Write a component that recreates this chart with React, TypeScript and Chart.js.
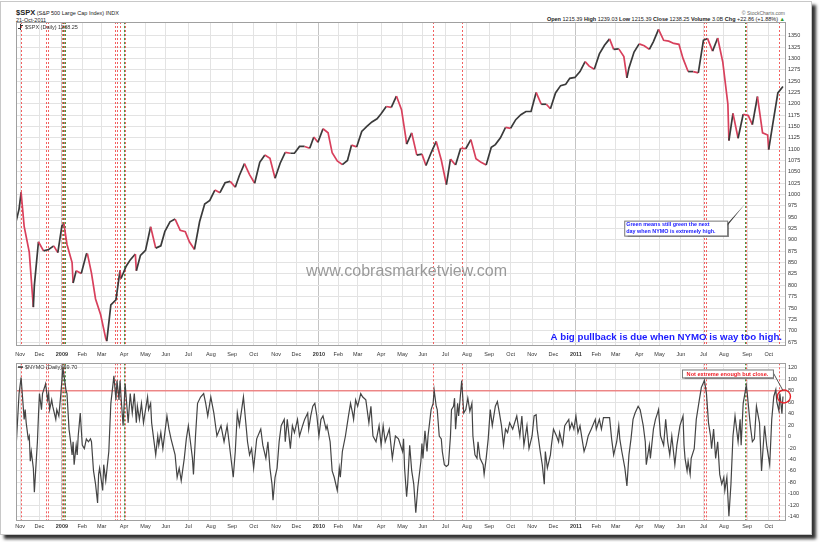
import React, { useEffect, useRef } from "react";
import { Chart, registerables } from "chart.js";
Chart.register(...registerables);

const FONT = '"Liberation Sans", Arial, sans-serif';

// ---- calendar data ----
const marketHolidays = [
  "2008-11-27", "2008-12-25", "2009-01-01", "2009-01-19", "2009-02-16", "2009-04-10",
  "2009-05-25", "2009-07-03", "2009-09-07", "2009-11-26", "2009-12-25", "2010-01-01",
  "2010-01-18", "2010-02-15", "2010-04-02", "2010-05-31", "2010-07-05", "2010-09-06",
  "2010-11-25", "2010-12-24", "2011-01-17", "2011-02-21", "2011-04-22", "2011-05-30",
  "2011-07-04", "2011-09-05",
];
const monthNames = ["Jan", "Feb", "Mar", "Apr", "May", "Jun", "Jul", "Aug", "Sep", "Oct", "Nov", "Dec"];

// ---- $SPX closes (selected sessions) ----
const spxDates = [
  "2008-10-28", "2008-10-31", "2008-11-04", "2008-11-07", "2008-11-14", "2008-11-20", "2008-11-21", "2008-11-28",
  "2008-12-05", "2008-12-12", "2008-12-19", "2008-12-26", "2009-01-02", "2009-01-06", "2009-01-09", "2009-01-16",
  "2009-01-20", "2009-01-23", "2009-01-30", "2009-02-06", "2009-02-09", "2009-02-13", "2009-02-20", "2009-02-27",
  "2009-03-06", "2009-03-09", "2009-03-13", "2009-03-20", "2009-03-26", "2009-03-27", "2009-04-03", "2009-04-09",
  "2009-04-17", "2009-04-20", "2009-04-24", "2009-05-01", "2009-05-08", "2009-05-15", "2009-05-22", "2009-05-29",
  "2009-06-05", "2009-06-12", "2009-06-19", "2009-06-26", "2009-07-02", "2009-07-10", "2009-07-17", "2009-07-24",
  "2009-07-31", "2009-08-07", "2009-08-14", "2009-08-21", "2009-08-28", "2009-09-04", "2009-09-11", "2009-09-18",
  "2009-09-25", "2009-10-02", "2009-10-09", "2009-10-16", "2009-10-23", "2009-10-30", "2009-11-06", "2009-11-13",
  "2009-11-20", "2009-11-27", "2009-12-04", "2009-12-11", "2009-12-18", "2009-12-24", "2009-12-31", "2010-01-08",
  "2010-01-15", "2010-01-22", "2010-01-29", "2010-02-05", "2010-02-12", "2010-02-19", "2010-02-26", "2010-03-05",
  "2010-03-12", "2010-03-19", "2010-03-26", "2010-04-01", "2010-04-09", "2010-04-16", "2010-04-23", "2010-04-30",
  "2010-05-06", "2010-05-07", "2010-05-14", "2010-05-21", "2010-05-28", "2010-06-04", "2010-06-11", "2010-06-18",
  "2010-06-25", "2010-07-02", "2010-07-09", "2010-07-16", "2010-07-23", "2010-07-30", "2010-08-06", "2010-08-13",
  "2010-08-20", "2010-08-27", "2010-09-03", "2010-09-10", "2010-09-17", "2010-09-24", "2010-10-01", "2010-10-08",
  "2010-10-15", "2010-10-22", "2010-10-29", "2010-11-05", "2010-11-12", "2010-11-19", "2010-11-26", "2010-12-03",
  "2010-12-10", "2010-12-17", "2010-12-23", "2010-12-31", "2011-01-07", "2011-01-14", "2011-01-21", "2011-01-28",
  "2011-02-04", "2011-02-11", "2011-02-18", "2011-02-25", "2011-03-04", "2011-03-11", "2011-03-16", "2011-03-18",
  "2011-03-25", "2011-04-01", "2011-04-08", "2011-04-15", "2011-04-21", "2011-04-29", "2011-05-06", "2011-05-13",
  "2011-05-20", "2011-05-27", "2011-06-03", "2011-06-10", "2011-06-17", "2011-06-24", "2011-07-01", "2011-07-08",
  "2011-07-15", "2011-07-22", "2011-07-29", "2011-08-05", "2011-08-08", "2011-08-12", "2011-08-19", "2011-08-26",
  "2011-09-02", "2011-09-09", "2011-09-16", "2011-09-23", "2011-09-30", "2011-10-03", "2011-10-07", "2011-10-14",
  "2011-10-21",
];
const spxValues = [
  940, 968, 1005, 930, 873, 752, 800, 896,
  876, 879, 887, 872, 931, 935, 890, 850,
  805, 832, 826, 869, 870, 827, 770, 735,
  683, 677, 757, 768, 833, 815, 842, 856,
  869, 832, 866, 877, 929, 882, 887, 919,
  940, 946, 921, 918, 896, 879, 940, 979,
  987, 1010, 1004, 1026, 1029, 1016, 1042, 1068,
  1044, 1025, 1071, 1087, 1080, 1036, 1069, 1093,
  1091, 1091, 1106, 1106, 1102, 1127, 1115, 1145,
  1136, 1092, 1074, 1066, 1075, 1109, 1105, 1139,
  1150, 1160, 1167, 1178, 1194, 1192, 1217, 1187,
  1128, 1111, 1136, 1087, 1089, 1064, 1092, 1117,
  1076, 1022, 1078, 1065, 1102, 1101, 1121, 1079,
  1071, 1065, 1104, 1110, 1125, 1148, 1146, 1165,
  1176, 1183, 1183, 1225, 1199, 1199, 1189, 1224,
  1240, 1243, 1256, 1258, 1271, 1293, 1283, 1276,
  1310, 1329, 1343, 1320, 1321, 1304, 1257, 1279,
  1314, 1332, 1328, 1320, 1337, 1364, 1340, 1338,
  1333, 1331, 1300, 1271, 1271, 1268, 1340, 1344,
  1316, 1345, 1292, 1199, 1119, 1179, 1124, 1177,
  1174, 1154, 1216, 1136, 1131, 1099, 1155, 1224,
  1238,
];
const spxTicks = [675, 700, 725, 750, 775, 800, 825, 850, 875, 900, 925, 950, 975, 1000, 1025, 1050, 1075, 1100, 1125, 1150, 1175, 1200, 1225, 1250, 1275, 1300, 1325, 1350];

// ---- $NYMO (session number since 28-Oct-2008, value) ----
const nymoDays = [
  0, 3, 5, 8, 9, 10, 12, 13, 14, 15, 17, 18, 20, 21, 22, 23, 25, 26, 28, 29, 31, 32, 33, 35, 36, 39, 40, 42, 44, 46,
  49, 50, 52, 54, 55, 56, 57, 59, 60, 61, 63, 65, 67, 69, 71, 73, 74, 76, 78, 80, 81, 82, 85, 86, 88, 91, 93, 96, 98, 99,
  101, 102, 103, 105, 107, 110, 112, 114, 116, 118, 119, 121, 123, 125, 127, 129, 130, 132, 133, 135, 137, 139, 140, 142, 144, 148, 150, 152, 156, 158,
  160, 162, 165, 167, 169, 171, 173, 174, 176, 178, 181, 184, 186, 188, 191, 194, 197, 201, 204, 207, 210, 213, 215, 217, 219, 223, 227, 229, 231, 233,
  236, 240, 242, 245, 247, 249, 251, 252, 254, 256, 258, 260, 263, 264, 266, 269, 271, 273, 276, 278, 281, 283, 286, 287, 289, 291, 293, 295, 297, 299,
  301, 304, 305, 308, 310, 312, 315, 317, 318, 320, 323, 326, 328, 330, 331, 333, 335, 338, 340, 343, 346, 348, 350, 353, 356, 358, 360, 362, 366, 369,
  372, 375, 379, 380, 381, 383, 384, 386, 388, 390, 392, 394, 397, 398, 399, 401, 403, 404, 407, 409, 410, 412, 413, 415, 417, 418, 420, 422, 424, 426,
  427, 429, 430, 431, 433, 434, 437, 439, 441, 443, 445, 447, 448, 450, 452, 453, 455, 458, 459, 461, 463, 465, 467, 470, 472, 474, 476, 478, 480, 482,
  484, 487, 491, 494, 496, 498, 501, 503, 506, 508, 510, 511, 514, 516, 518, 519, 521, 524, 525, 527, 530, 532, 533, 536, 538, 542, 543, 545, 547, 549,
  551, 553, 555, 557, 559, 561, 564, 568, 569, 572, 574, 576, 582, 584, 586, 589, 591, 592, 594, 597, 599, 601, 603, 605, 607, 610, 612, 615, 617, 618,
  621, 622, 625, 627, 629, 630, 632, 635, 637, 639, 641, 643, 646, 648, 651, 654, 655, 656, 658, 659, 661, 662, 665, 667, 670, 672, 675, 677, 679, 681,
  682, 684, 686, 688, 690, 692, 694, 695, 697, 699, 701, 703, 705, 708, 710, 711, 713, 716, 717, 720, 722, 724, 726, 729, 731, 734, 736, 739, 741, 743,
  745, 746, 748, 749, 751, 752,
];
const nymoValues = [
  -21, 75, 103, 30, 47, 24, -4, 1, -43, -26, -55, -97, -38, -9, 36, 75, 47, 75, 86, 92, 64, 75, 47, 64, 53, 30, 47, 36, 75, 120,
  81, 75, 13, -15, -32, -9, -49, -15, -32, 1, 41, -15, -21, -4, -9, -4, -9, -60, -83, -116, -66, -55, -94, -49, -77, -26, 58, 106, 64, 98,
  64, 98, 69, 19, 92, 24, 75, 41, 75, 24, 53, 30, 58, 24, 47, 69, 47, 58, 24, -4, -32, 1, -15, 7, -21, 36, 13, -4, -32, -71,
  -55, -77, -38, -4, 19, -9, -38, -66, 1, 58, 69, 75, 58, 36, 69, 41, 1, 19, -9, 19, -26, -71, -26, 41, 19, 69, -9, -32, -21, -55,
  -4, 13, -15, -38, -9, -55, -83, -111, -71, -55, -9, 19, 30, -9, 30, -21, 19, 7, 30, 1, 19, 30, 41, 13, 36, 53, 58, 36, 1, 30,
  36, 13, 19, -9, -60, -71, -94, -55, -71, -26, 1, 36, 58, 41, 30, 64, 53, 75, 69, 64, 24, 53, 1, -9, 19, -15, 19, -9, 13, -38,
  1, -4, -26, -4, -55, -105, -83, -15, -60, -83, -133, -88, -43, -12, -38, 10, -26, 1, 47, 58, 81, 53, 47, 1, -4, -26, -49, -52, -49, 1,
  47, 53, 67, 13, 58, 36, 98, 41, 47, 67, 44, 58, 1, -32, -38, -9, -38, -49, -66, -38, -4, 47, 19, 53, 61, 41, 19, -15, 13, 7,
  24, 13, 36, 1, 36, -15, 19, -21, 1, 36, 38, 13, -26, -49, -83, -26, -55, -32, -15, 13, 1, -9, 7, -15, 19, 30, 13, 24, 13, 36,
  7, 19, -4, -26, -15, 1, 13, 30, 13, 30, 13, 33, 33, -4, -32, -9, 19, -4, -26, -55, -86, -32, -4, 30, 41, 53, 47, 19, -9, -49,
  -15, -38, 13, 30, 41, 47, 1, -15, 30, -9, -32, 1, -49, -15, 19, 36, -15, -38, -60, -43, -66, -38, -21, 30, 64, 86, 98, 75, 24, 1,
  -21, 13, -38, -9, -66, -83, -71, -94, -71, -139, -83, 1, 36, -9, 30, -15, 58, 89, 75, 19, -9, -4, 53, 24, -60, 19, -15, -49, 30, 70,
  82, 60, 45, 75, 40, 70,
];
const nymoTicks = [-140, -120, -100, -80, -60, -40, -20, 0, 20, 40, 60, 80, 100, 120];
const nymoLimit = 80;

// ---- signal markers (session numbers) ----
const redSignalDays = [5, 29, 31, 45, 47, 97, 99, 102, 107, 409, 437, 675, 677, 716, 748];
const greenSignalDays = [46, 48, 106, 715];

// ---- derived axis structure ----
function buildSessions(): string[] {
  const out: string[] = [];
  const d = new Date(Date.UTC(2008, 9, 28));
  const end = Date.UTC(2011, 9, 21);
  while (d.getTime() <= end) {
    const wd = d.getUTCDay();
    const s = d.toISOString().slice(0, 10);
    if (wd !== 0 && wd !== 6 && marketHolidays.indexOf(s) < 0) out.push(s);
    d.setUTCDate(d.getUTCDate() + 1);
  }
  return out;
}
const SESSIONS = buildSessions();
const sessionIndex = new Map<string, number>(SESSIONS.map((s, i) => [s, i] as [string, number]));
const monthTicks: { value: number; label: string; year: boolean }[] = [];
for (let i = 1; i < SESSIONS.length; i++) {
  if (SESSIONS[i].slice(0, 7) !== SESSIONS[i - 1].slice(0, 7)) {
    const m = +SESSIONS[i].slice(5, 7);
    monthTicks.push({ value: i, label: m === 1 ? SESSIONS[i].slice(0, 4) : monthNames[m - 1], year: m === 1 });
  }
}
const spxPoints = spxDates
  .map((d, i) => ({ x: sessionIndex.get(d) as number, y: spxValues[i] }))
  .filter((p) => p.x !== undefined);
const nymoPoints = nymoDays.map((d, i) => ({ x: d, y: nymoValues[i] }));

const X_MIN = 0;
const X_MAX = 754;
const RED = "#d8405c";
const DARK = "#3a3a3a";
const DASH_RED = "rgba(242,80,80,0.9)";
const DASH_GREEN = "rgba(60,150,60,0.95)";

function xScale(labelPad: number, height: number) {
  return {
    type: "linear" as const,
    min: X_MIN,
    max: X_MAX,
    afterBuildTicks: (s: any) => {
      s.ticks = monthTicks.map((t) => ({ value: t.value }));
    },
    afterFit: (s: any) => {
      s.height = height;
    },
    border: { display: false },
    grid: {
      drawTicks: false,
      color: (c: any) => (monthTicks[c.index] && monthTicks[c.index].year ? "#c4c4c4" : "#e3e3e3"),
      lineWidth: 1,
    },
    ticks: {
      autoSkip: false,
      maxRotation: 0,
      padding: labelPad,
      color: "#333",
      font: (c: any) => ({
        family: FONT,
        size: 5.5,
        weight: monthTicks[c.index] && monthTicks[c.index].year ? "bold" : "normal",
      }),
      callback: (_v: any, i: number) => (monthTicks[i] ? monthTicks[i].label : ""),
    },
  };
}

function yScale(min: number, max: number, ticks: number[]) {
  return {
    type: "linear" as const,
    position: "right" as const,
    min,
    max,
    afterBuildTicks: (s: any) => {
      s.ticks = ticks.map((v) => ({ value: v }));
    },
    afterFit: (s: any) => {
      s.width = 35;
    },
    border: { display: false },
    grid: { drawTicks: false, color: "#e3e3e3", lineWidth: 1 },
    ticks: {
      padding: 3,
      color: "#333",
      font: { family: FONT, size: 5.5 },
      callback: (v: any) => String(v),
    },
  };
}

function drawSignals(chart: any) {
  const { ctx, chartArea: a, scales } = chart;
  const x = scales.x;
  ctx.save();
  ctx.beginPath();
  ctx.rect(a.left, a.top, a.right - a.left, a.bottom - a.top);
  ctx.clip();
  ctx.lineWidth = 1;
  ctx.setLineDash([2, 2]);
  const draw = (d: number, color: string) => {
    const px = Math.round(x.getPixelForValue(d)) + 0.5;
    ctx.strokeStyle = color;
    ctx.beginPath();
    ctx.moveTo(px, a.top);
    ctx.lineTo(px, a.bottom);
    ctx.stroke();
  };
  redSignalDays.forEach((d) => draw(d, DASH_RED));
  greenSignalDays.forEach((d) => draw(d, DASH_GREEN));
  ctx.restore();
}

function drawFrame(chart: any) {
  const { ctx, chartArea: a } = chart;
  ctx.save();
  ctx.strokeStyle = "#a0a0a0";
  ctx.lineWidth = 1;
  ctx.strokeRect(Math.round(a.left) + 0.5, Math.round(a.top) + 0.5, Math.round(a.right - a.left), Math.round(a.bottom - a.top));
  ctx.restore();
}

const topOverlay = {
  id: "topOverlay",
  beforeDatasetsDraw(chart: any) {
    drawSignals(chart);
  },
  afterDraw(chart: any) {
    const { ctx, chartArea: a, scales } = chart;
    drawFrame(chart);
    ctx.save();
    // legend
    ctx.fillStyle = "#333";
    ctx.fillRect(a.left + 4, a.top + 2, 1, 6);
    ctx.fillRect(a.left + 2, a.top + 6, 2, 1);
    ctx.fillRect(a.left + 5, a.top + 3, 2, 1);
    ctx.font = `5.5px ${FONT}`;
    ctx.textBaseline = "middle";
    ctx.fillText("$SPX (Daily) 1238.25", a.left + 9, a.top + 5);
    // watermark
    ctx.font = `16px ${FONT}`;
    ctx.fillStyle = "#9a9a9a";
    ctx.textAlign = "center";
    ctx.fillText("www.cobrasmarketview.com", (a.left + a.right) / 2 + 6, scales.y.getPixelForValue(830));
    // big comment
    ctx.font = `bold 9.7px ${FONT}`;
    ctx.fillStyle = "#1a1aff";
    ctx.textAlign = "right";
    ctx.fillText("A big pullback is due when NYMO is way too high.", a.right - 3, a.bottom - 8);
    // green callout
    const tipX = scales.x.getPixelForValue(greenSignalDays[3]);
    const tipY = scales.y.getPixelForValue(980);
    const bx = tipX - 121;
    const by = tipY + 17;
    const bw = 103;
    const bh = 15;
    ctx.fillStyle = "#333";
    ctx.beginPath();
    ctx.moveTo(bx + bw - 8, by + bh);
    ctx.lineTo(bx + bw, by + 3);
    ctx.lineTo(tipX, tipY);
    ctx.closePath();
    ctx.fill();
    ctx.shadowColor = "rgba(0,0,0,0.45)";
    ctx.shadowOffsetX = 1.5;
    ctx.shadowOffsetY = 1.5;
    ctx.shadowBlur = 1;
    ctx.fillStyle = "#fff";
    ctx.fillRect(bx, by, bw, bh);
    ctx.shadowColor = "transparent";
    ctx.strokeStyle = "#777";
    ctx.strokeRect(bx + 0.5, by + 0.5, bw, bh);
    ctx.fillStyle = "#1a1aff";
    ctx.font = `bold 5.4px ${FONT}`;
    ctx.textAlign = "left";
    ctx.fillText("Green means still green the next", bx + 2, by + 4);
    ctx.fillText("day when NYMO is extremely high.", bx + 2, by + 11);
    ctx.restore();
  },
};

const bottomOverlay = {
  id: "bottomOverlay",
  beforeDatasetsDraw(chart: any) {
    const { ctx, chartArea: a, scales } = chart;
    drawSignals(chart);
    ctx.save();
    const py = scales.y.getPixelForValue(nymoLimit);
    ctx.strokeStyle = "rgba(238,110,110,0.8)";
    ctx.lineWidth = 1.5;
    ctx.beginPath();
    ctx.moveTo(a.left, py);
    ctx.lineTo(a.right, py);
    ctx.stroke();
    ctx.restore();
  },
  afterDraw(chart: any) {
    const { ctx, chartArea: a, scales } = chart;
    drawFrame(chart);
    ctx.save();
    ctx.fillStyle = "#333";
    ctx.fillRect(a.left + 2, a.top + 3, 5, 1.5);
    ctx.font = `5.5px ${FONT}`;
    ctx.textBaseline = "middle";
    ctx.fillText("$NYMO (Daily) 69.70", a.left + 9, a.top + 4);
    // circle around last value
    const last = nymoPoints[nymoPoints.length - 1];
    const cx = scales.x.getPixelForValue(last.x) + 1;
    const cy = scales.y.getPixelForValue(last.y);
    ctx.strokeStyle = "#e8222a";
    ctx.lineWidth = 1.4;
    ctx.beginPath();
    ctx.arc(cx, cy, 6.5, 0, Math.PI * 2);
    ctx.stroke();
    // callout
    const bx = cx - 102;
    const by = cy - 27;
    const bw = 91;
    const bh = 8;
    ctx.strokeStyle = "#555";
    ctx.lineWidth = 1;
    ctx.beginPath();
    ctx.moveTo(bx + bw - 1, by + 1);
    ctx.lineTo(cx - 1, cy - 6);
    ctx.stroke();
    ctx.shadowColor = "rgba(0,0,0,0.45)";
    ctx.shadowOffsetX = 1.5;
    ctx.shadowOffsetY = 1.5;
    ctx.shadowBlur = 1;
    ctx.fillStyle = "#fff";
    ctx.fillRect(bx, by, bw, bh);
    ctx.shadowColor = "transparent";
    ctx.strokeStyle = "#777";
    ctx.strokeRect(bx + 0.5, by + 0.5, bw, bh);
    ctx.fillStyle = "#ee1c24";
    ctx.font = `bold 5.6px ${FONT}`;
    ctx.textAlign = "center";
    ctx.fillText("Not extreme enough but close.", bx + bw / 2, by + bh / 2 + 0.5);
    ctx.restore();
  },
};

export default function App() {
  const topRef = useRef<HTMLCanvasElement>(null);
  const botRef = useRef<HTMLCanvasElement>(null);

  useEffect(() => {
    const top = new Chart(topRef.current as HTMLCanvasElement, {
      type: "line",
      data: {
        datasets: [
          {
            data: spxPoints,
            borderColor: DARK,
            borderWidth: 1.7,
            pointRadius: 0,
            tension: 0,
            segment: {
              borderColor: (c: any) => (c.p1.parsed.y < c.p0.parsed.y ? RED : DARK),
            },
          } as any,
        ],
      },
      options: {
        animation: false,
        responsive: false,
        maintainAspectRatio: false,
        layout: { padding: { left: 16, top: 22, right: 0, bottom: 0 } },
        plugins: { legend: { display: false }, tooltip: { enabled: false } },
        scales: {
          x: xScale(6, 13) as any,
          y: yScale(668.5, 1380.2, spxTicks) as any,
        },
      },
      plugins: [topOverlay],
    });
    const bot = new Chart(botRef.current as HTMLCanvasElement, {
      type: "line",
      data: {
        datasets: [
          {
            data: nymoPoints,
            borderColor: "#444",
            borderWidth: 1.2,
            pointRadius: 0,
            tension: 0,
          },
        ],
      },
      options: {
        animation: false,
        responsive: false,
        maintainAspectRatio: false,
        layout: { padding: { left: 16, top: 1, right: 0, bottom: 0 } },
        plugins: { legend: { display: false }, tooltip: { enabled: false } },
        scales: {
          x: xScale(3, 15) as any,
          y: yScale(-145.6, 127.9, nymoTicks) as any,
        },
      },
      plugins: [bottomOverlay],
    });
    return () => {
      top.destroy();
      bot.destroy();
    };
  }, []);

  const small: React.CSSProperties = { fontFamily: FONT, fontSize: 5.5, color: "#222", whiteSpace: "nowrap", lineHeight: 1 };

  return (
    <div style={{ position: "fixed", left: 0, top: 0, width: 820, height: 542, background: "#fff", overflow: "hidden" }}>
      <div
        style={{
          position: "absolute",
          left: 0,
          top: 1,
          width: 810,
          height: 532,
          border: "1px solid #c8c8c8",
          background: "#fff",
          boxShadow: "4px 4px 3px #333",
        }}
      />
      <div style={{ ...small, position: "absolute", left: 16, top: 9 }}>
        <b style={{ fontSize: 7.5 }}>$SPX</b>
        <span> (S&amp;P 500 Large Cap Index) INDX</span>
      </div>
      <div style={{ ...small, position: "absolute", left: 16, top: 17.5 }}>21-Oct-2011</div>
      <div style={{ ...small, position: "absolute", right: 35, top: 11, color: "#666", fontSize: 5 }}>© StockCharts.com</div>
      <div style={{ ...small, position: "absolute", right: 35, top: 17 }}>
        <b>Open</b> 1215.39 <b>High</b> 1239.03 <b>Low</b> 1215.39 <b>Close</b> 1238.25 <b>Volume</b> 3.0B <b>Chg</b> +22.86 (+1.88%){" "}
        <span style={{ color: "#2a9a2a" }}>▲</span>
      </div>
      <canvas ref={topRef} width={820} height={358} style={{ position: "absolute", left: 0, top: 0 }} />
      <canvas ref={botRef} width={820} height={178} style={{ position: "absolute", left: 0, top: 357 }} />
    </div>
  );
}
